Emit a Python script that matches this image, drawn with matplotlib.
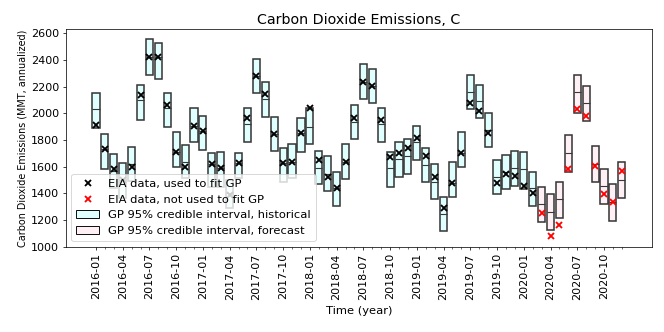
import matplotlib
matplotlib.use("Agg")
import matplotlib.pyplot as plt
import numpy as np
from matplotlib.lines import Line2D
from matplotlib.patches import Patch

# ---------------------------------------------------------------------------
# Data (MMT, annualized), monthly 2016-01 .. 2020-12
# ---------------------------------------------------------------------------

MONTHS = [f"{y}-{m:02d}" for y in range(2016, 2021) for m in range(1, 13)]
N_HIST = 50  # first forecast month is 2020-03

CI_UPPER = [
    2155, 1842, 1692, 1625, 1750, 2217, 2555, 2525, 2157, 1857, 1762, 2042,
    1980, 1705, 1712, 1500, 1705, 2042, 2407, 2237, 1975, 1742, 1767, 1962,
    2037, 1717, 1680, 1562, 1770, 2062, 2370, 2337, 2037, 1712, 1782, 1805,
    1905, 1737, 1620, 1375, 1632, 1857, 2287, 2217, 2005, 1650, 1687, 1717,
    1712, 1562, 1450, 1392, 1487, 1837, 2292, 2207, 1755, 1582, 1470, 1637,
]
CI_LOWER = [
    1887, 1585, 1440, 1365, 1490, 1950, 2292, 2262, 1895, 1600, 1512, 1787,
    1725, 1450, 1450, 1290, 1512, 1782, 2150, 1975, 1717, 1487, 1517, 1707,
    1767, 1467, 1417, 1305, 1507, 1805, 2112, 2082, 1782, 1450, 1525, 1545,
    1650, 1482, 1357, 1117, 1375, 1595, 2030, 1962, 1745, 1392, 1430, 1457,
    1432, 1305, 1187, 1125, 1217, 1557, 2005, 1942, 1487, 1317, 1192, 1367,
]
CI_MEDIAN = [
    2030, 1730, 1570, 1500, 1620, 2100, 2425, 2420, 2037, 1712, 1632, 1907,
    1867, 1617, 1590, 1400, 1625, 1917, 2280, 2112, 1842, 1630, 1632, 1850,
    1900, 1587, 1545, 1437, 1637, 1932, 2237, 2207, 1917, 1587, 1657, 1680,
    1782, 1612, 1487, 1245, 1475, 1700, 2162, 2092, 1875, 1520, 1562, 1587,
    1582, 1437, 1320, 1262, 1355, 1705, 2162, 2080, 1620, 1455, 1332, 1500,
]
EIA_DATA = [
    1912, 1732, 1580, 1500, 1595, 2137, 2425, 2425, 2067, 1712, 1600, 1907,
    1867, 1617, 1590, 1390, 1625, 1962, 2280, 2145, 1842, 1630, 1632, 1850,
    2037, 1650, 1520, 1437, 1637, 1962, 2237, 2207, 1950, 1675, 1700, 1742,
    1817, 1680, 1525, 1292, 1475, 1700, 2075, 2017, 1850, 1475, 1542, 1530,
    1457, 1400, 1250, 1082, 1162, 1580, 2030, 1980, 1607, 1392, 1337, 1570,
]

HIST_COLOR = "lightcyan"
FCST_COLOR = "lavenderblush"
EDGE_COLOR = "#383838"
BOX_WIDTH  = 0.8

# ---------------------------------------------------------------------------
# Plot
# ---------------------------------------------------------------------------

def main():
    x = np.arange(len(MONTHS))
    lo = np.array(CI_LOWER, dtype=float)
    hi = np.array(CI_UPPER, dtype=float)
    med = np.array(CI_MEDIAN, dtype=float)
    obs = np.array(EIA_DATA, dtype=float)
    hist = x < N_HIST
    fcst = ~hist

    fig, ax = plt.subplots(figsize=(10, 5), dpi=66.4)
    fig.subplots_adjust(left=0.099, right=0.982, top=0.912, bottom=0.257)

    ax.bar(x[hist], (hi - lo)[hist], bottom=lo[hist], width=BOX_WIDTH,
           color=HIST_COLOR, edgecolor=EDGE_COLOR, linewidth=1.7, zorder=2)
    ax.bar(x[fcst], (hi - lo)[fcst], bottom=lo[fcst], width=BOX_WIDTH,
           color=FCST_COLOR, edgecolor=EDGE_COLOR, linewidth=1.7, zorder=2)
    ax.hlines(med, x - BOX_WIDTH / 2, x + BOX_WIDTH / 2, colors=EDGE_COLOR,
              linewidth=1.2, zorder=3)

    ax.plot(x[hist], obs[hist], "x", color="black", ms=7, mew=2, zorder=4)
    ax.plot(x[fcst], obs[fcst], "x", color="red", ms=7, mew=2, zorder=4)

    ax.set_ylim(1000, 2632)
    ax.set_xticks(x[::3])
    ax.set_xticklabels(MONTHS[::3], rotation=90)
    ax.set_xticks(x, minor=True)
    ax.tick_params(axis="x", labelsize=12)
    ax.tick_params(axis="y", labelsize=12)
    ax.set_title("Carbon Dioxide Emissions, C", fontsize=15.5)
    ax.set_xlabel("Time (year)", fontsize=12.5, labelpad=7)
    ax.set_ylabel("Carbon Dioxide Emissions (MMT, annualized)", fontsize=10.5)

    handles = [
        Line2D([], [], ls="none", marker="x", color="black", ms=7, mew=2),
        Line2D([], [], ls="none", marker="x", color="red", ms=7, mew=2),
        Patch(facecolor=HIST_COLOR, edgecolor="black"),
        Patch(facecolor=FCST_COLOR, edgecolor="black"),
    ]
    labels = [
        "EIA data, used to fit GP",
        "EIA data, not used to fit GP",
        "GP 95% credible interval, historical",
        "GP 95% credible interval, forecast",
    ]
    ax.legend(handles, labels, loc="lower left", fontsize=12.5)

    fig.savefig("out.png", dpi=66.4)
    plt.close(fig)


if __name__ == "__main__":
    main()
